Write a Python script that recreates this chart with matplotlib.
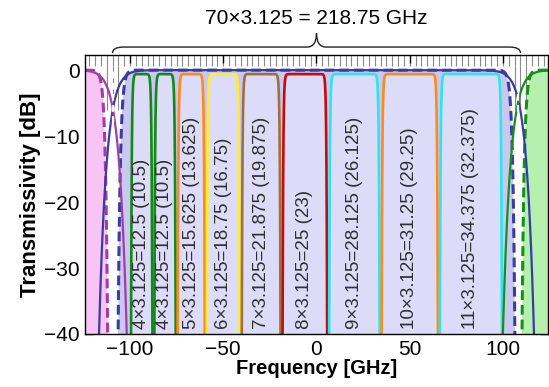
import numpy as np
import matplotlib
matplotlib.use('Agg')
import matplotlib.pyplot as plt
from matplotlib.path import Path
from matplotlib.patches import PathPatch
from matplotlib.ticker import MultipleLocator

plt.rcParams['font.family'] = ['Liberation Sans', 'DejaVu Sans']

# ---- data ----
slot = 3.125                       # GHz slot granularity
start_freq = -100.0                # first channel edge (GHz)
n_slots = [4, 4, 5, 6, 7, 8, 9, 10, 11]
ch_colors = ['#14891a', '#14891a', '#ff8a1c', '#ffee30', '#a0703c',
             '#c80a0a', '#2ae6f2', '#ff8a1c', '#2ae6f2']
ch_labels = ['4×3.125=12.5 (10.5)', '4×3.125=12.5 (10.5)',
             '5×3.125=15.625 (13.625)', '6×3.125=18.75 (16.75)',
             '7×3.125=21.875 (19.875)', '8×3.125=25 (23)',
             '9×3.125=28.125 (26.125)', '10×3.125=31.25 (29.25)',
             '11×3.125=34.375 (32.375)']
ch_top_db = -0.6
super_channel_centers = [-218.4, 0.0, 216.6]   # purple, blue, green
solid_w, solid_order = 108.05, 29            # super-Gaussian (solid)
dashed_w, dashed_order = 103.8, 90           # super-Gaussian (dashed)
crossings = [-109.2, 108.3]
brace_span = [-109.4, 109.4]
title_text = '70×3.125 = 218.75 GHz'

fig = plt.figure(figsize=(5.49, 3.87), dpi=100)
ax = fig.add_axes([0.155, 0.137, 0.843, 0.721])
xmin, xmax = -124.1, 124.1
ymin, ymax = -40, 2.3
f = np.linspace(xmin, xmax, 6000)

def sg(fc, w, p):
    return -4.343 * (np.abs(f - fc) / w) ** p

purple_s = sg(super_channel_centers[0], solid_w, solid_order)
blue_s = sg(super_channel_centers[1], solid_w, solid_order)
green_s = sg(super_channel_centers[2], solid_w, solid_order)
purple_d = sg(super_channel_centers[0], dashed_w, dashed_order)
blue_d = sg(super_channel_centers[1], dashed_w, dashed_order)
green_d = sg(super_channel_centers[2], dashed_w, dashed_order)

# hatch (slot grid) at top
ks = np.arange(-39, 40)
grid_x = ks * slot
ax.vlines(grid_x, 0.7, ymax, colors='#8a8a8a', lw=0.8, zorder=1)
gap_x = grid_x[(np.abs(grid_x) > 104) & (np.abs(grid_x) < 114)]
ax.vlines(gap_x, -6, 0.7, colors='#8a8a8a', lw=0.8, zorder=1)

# fills
ax.fill_between(f, blue_d, -50, color='#c9c9ef', lw=0, zorder=2)
ax.fill_between(f, purple_d, -50, color='#f8c4f4', lw=0, zorder=2)
ax.fill_between(f, green_d, -50, color='#b6f0ae', lw=0, zorder=2)

# channels
edges = start_freq + np.concatenate([[0], np.cumsum(n_slots)]) * slot
for i, n in enumerate(n_slots):
    c = 0.5 * (edges[i] + edges[i + 1])
    h = n * slot / 2 - 0.55
    x = np.linspace(c - h - 0.2, c + h + 0.2, 800)
    y = ch_top_db - 39.4 * np.exp(-(h - np.abs(x - c)) / 0.35)
    y = np.maximum(y, -45)
    ax.fill_between(x, y, -50, color='#dcdcf8', lw=0, zorder=3)
    ax.plot(x, y, color=ch_colors[i], lw=1.9, zorder=4, solid_capstyle='butt')
    ax.text(c, -39.3, ch_labels[i], rotation=90, ha='center', va='bottom',
            fontsize=13.5, color='#303030', zorder=6)

# super-channel filter lines
ax.plot(f, blue_d, color='#3b3ba6', lw=2.2, ls=(0, (3.2, 1.6)), zorder=5)
ax.plot(f, purple_d, color='#a23ca6', lw=2.2, ls=(0, (3.2, 1.6)), zorder=5)
ax.plot(f, green_d, color='#17901a', lw=2.2, ls=(0, (3.2, 1.6)), zorder=5)
ax.plot(f, blue_s, color='#3b3ba6', lw=1.6, zorder=5)
ax.plot(f, purple_s, color='#a23ca6', lw=1.6, zorder=5)
ax.plot(f, green_s, color='#17901a', lw=1.6, zorder=5)
for xc in crossings:
    ax.plot([xc, xc], [-40, 0], color='white', lw=1.6, ls=(0, (3, 2)), zorder=5.5)

ax.set_xlim(xmin, xmax)
ax.set_ylim(ymin, ymax)
ax.set_xticks([-100, -50, 0, 50, 100])
ax.set_yticks([0, -10, -20, -30, -40])
ax.yaxis.set_minor_locator(MultipleLocator(2.5))
ax.tick_params(axis='both', which='major', direction='in', length=6, width=1,
               labelsize=15, top=True, right=True, pad=4)
ax.tick_params(axis='y', which='minor', direction='in', length=3, width=0.8,
               right=True, left=True)
ax.set_xlabel('Frequency [GHz]', fontsize=14.5, fontweight='bold', labelpad=0)
ax.set_ylabel('Transmissivity [dB]', fontsize=16, fontweight='bold', labelpad=2)
for s in ax.spines.values():
    s.set_linewidth(1.0)
    s.set_zorder(7)

# brace
xl, xr = brace_span
yb, ye, yt = 3.5, 2.6, 5.6
verts = [(xl, ye), (xl, yb), (xl + 6, yb), (-5, yb), (0, yb), (0, yt),
         (0, yt), (0, yb), (5, yb), (xr - 6, yb), (xr, yb), (xr, ye)]
codes = [Path.MOVETO, Path.CURVE3, Path.CURVE3, Path.LINETO, Path.CURVE3, Path.CURVE3,
         Path.MOVETO, Path.CURVE3, Path.CURVE3, Path.LINETO, Path.CURVE3, Path.CURVE3]
ax.add_patch(PathPatch(Path(verts, codes), fill=False, lw=1.0, color='#222222',
                       clip_on=False, zorder=8))
ax.text(0, 7.9, title_text, ha='center', va='center', fontsize=15, clip_on=False)

fig.savefig('out.png', dpi=100)
